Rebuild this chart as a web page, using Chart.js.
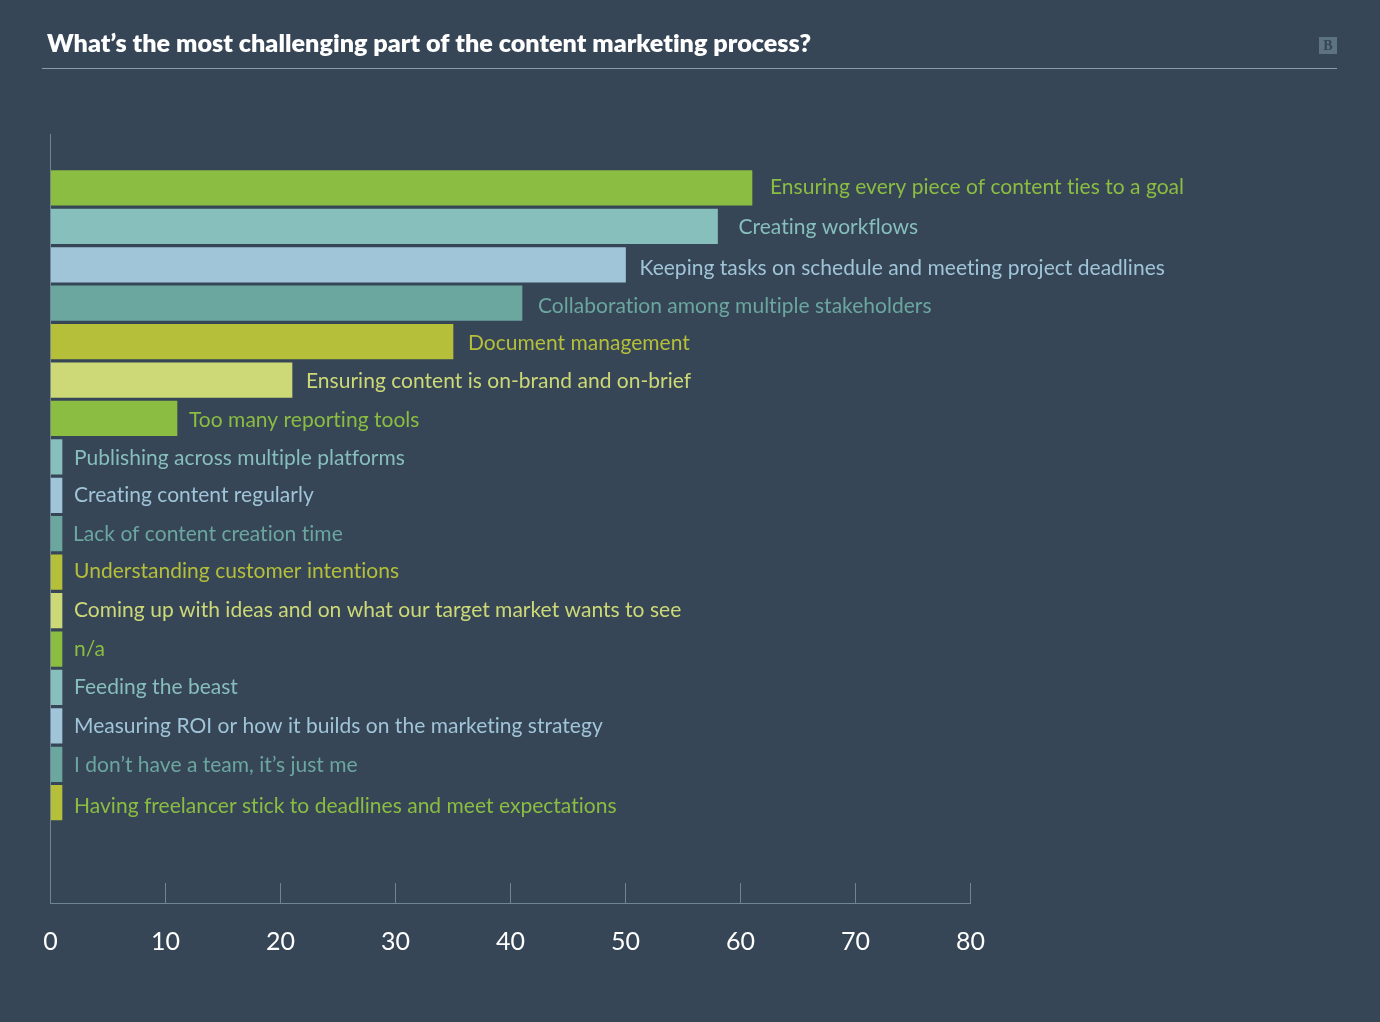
<!DOCTYPE html>
<html><head><meta charset="utf-8">
<style>html,body{margin:0;padding:0;background:#364656;overflow:hidden}#w{position:relative;width:1380px;height:1022px}canvas{display:block}</style>
<script src="https://cdn.jsdelivr.net/npm/chart.js@4"></script></head>
<body><div id="w"><canvas id="c" width="1380" height="1022"></canvas></div>
<script>
const titleText = "What’s the most challenging part of the content marketing process?";
const categories = ["Ensuring every piece of content ties to a goal","Creating workflows","Keeping tasks on schedule and meeting project deadlines","Collaboration among multiple stakeholders","Document management","Ensuring content is on-brand and on-brief","Too many reporting tools","Publishing across multiple platforms","Creating content regularly","Lack of content creation time","Understanding customer intentions","Coming up with ideas and on what our target market wants to see","n/a","Feeding the beast","Measuring ROI or how it builds on the marketing strategy","I don’t have a team, it’s just me","Having freelancer stick to deadlines and meet expectations"];
const values = [61,58,50,41,35,21,11,1,1,1,1,1,1,1,1,1,1];
const xTicks = [0,10,20,30,40,50,60,70,80];
const G="#8abd41",T="#87bfbc",B="#a0c4d8",D="#6ba69f",O="#b5bf3a",L="#cdd977";
const barColors=[G,T,B,D,O,L,G,T,B,D,O,L,G,T,B,D,O];
const labelColors=[G,T,B,D,O,L,G,T,B,D,O,L,G,T,B,D,G];
const labelDx=[18,21,14,16,15,14,12,12,12,11,12,12,12,12,12,12,12];
const labelDy=[-1,1,3,3,2,1,2,1,0,0,-1,0,0,0,0,1,4];
const LABEL_FONT='400 21px Lato, sans-serif';
const extras={id:'extras',
 beforeDraw(ch){ch.ctx.letterSpacing='0.02px';},
 afterDatasetsDraw(ch){const {ctx}=ch;const xs=ch.scales.x,ys=ch.scales.y;
  ctx.save();ctx.font=LABEL_FONT;ctx.textBaseline='middle';ctx.textAlign='left';
  categories.forEach((t,i)=>{ctx.fillStyle=labelColors[i];
    ctx.fillText(t,xs.getPixelForValue(values[i])+labelDx[i],ys.getPixelForValue(i)+labelDy[i]);});
  ctx.fillStyle='#8e9ba6';ctx.fillRect(42,68,1295,1);
  ctx.fillStyle='#5d7282';ctx.fillRect(1319,37,18,17);
  ctx.fillStyle='#364656';ctx.font='700 14px "Liberation Serif", serif';ctx.textAlign='center';
  ctx.fillText('B',1328,46);
  ctx.restore();}};
new Chart(document.getElementById('c'),{type:'bar',plugins:[extras],
 data:{datasets:[{data:values.map((v,i)=>({x:v,y:i})),backgroundColor:barColors,barThickness:34.6,borderWidth:0}]},
 options:{indexAxis:'y',responsive:false,animation:false,
  layout:{padding:{left:47,right:409.5,top:0,bottom:0}},
  plugins:{legend:{display:false},tooltip:{enabled:false},
   title:{display:true,text:titleText,align:'start',color:'#ffffff',font:{family:'Lato, sans-serif',weight:'800',size:25.15,lineHeight:1.2},padding:{top:29,bottom:75.8}}},
  scales:{
   x:{type:'linear',min:0,max:80,position:'bottom',afterFit(s){s.height=119;s.paddingLeft=0;s.paddingRight=0;},
      afterBuildTicks(s){s.ticks=xTicks.map(v=>({value:v}));},
      grid:{drawOnChartArea:false,drawTicks:true,tickLength:-20,color:'#6f8494',lineWidth:1},
      border:{display:true,color:'#6f8494',width:1},
      ticks:{color:'#ffffff',font:{family:'Lato, sans-serif',size:25},padding:44,maxRotation:0,autoSkip:false}},
   y:{type:'linear',reverse:true,offset:false,min:-1.378,max:18.61,position:'left',afterFit(s){s.width=3.5;},
      grid:{display:false,drawTicks:false,offset:false},border:{display:true,color:'#6f8494',width:1},ticks:{display:false}}
  }}});
</script></body></html>
